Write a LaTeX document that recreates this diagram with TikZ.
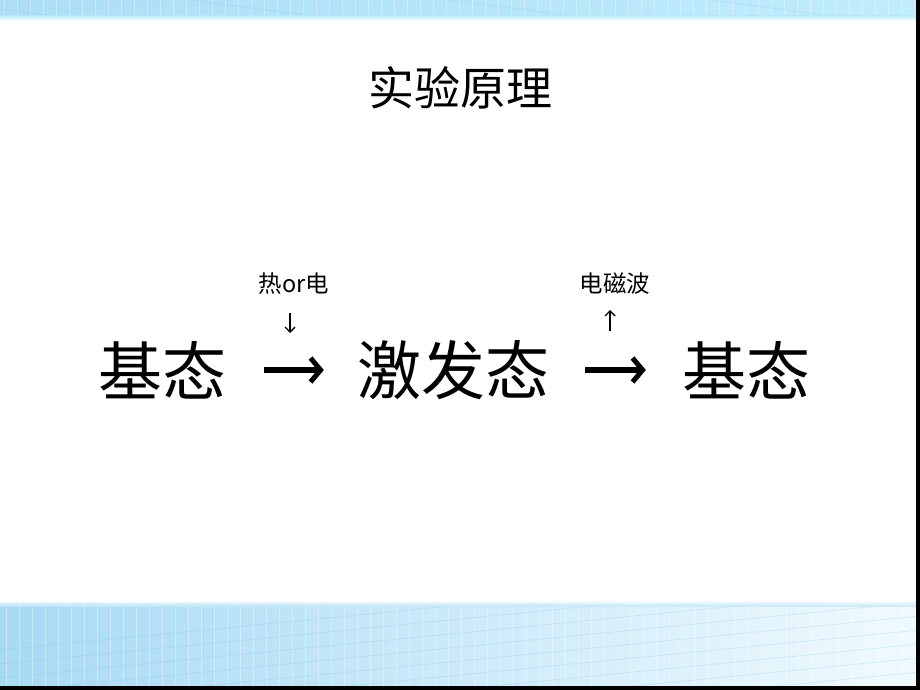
\documentclass[tikz,border=0pt]{standalone}
\usepackage{fontspec}
\setmainfont{Noto Sans CJK SC}
\usetikzlibrary{arrows.meta}
\definecolor{bandTopL}{RGB}{172,222,246}
\definecolor{bandTopR}{RGB}{192,236,252}
\definecolor{bandBotL}{RGB}{168,218,244}
\definecolor{bandBotR}{RGB}{240,250,254}
\definecolor{gridc}{RGB}{120,195,235}
\tikzset{
  bigtxt/.style={inner sep=0pt, font=\fontsize{64}{70}\selectfont},
  smalltxt/.style={inner sep=0pt, font=\fontsize{23.5}{27}\selectfont},
  titletxt/.style={inner sep=0pt, font=\fontsize{46}{52}\selectfont},
  bigarrow/.style={line width=6pt, -{Straight Barb[length=10pt,width=24pt,line width=5pt]}},
  smallarrow/.style={line width=1.4pt, -{Straight Barb[length=5pt,width=10pt,line width=1.4pt]}},
  gridv/.style={draw=white, line width=0.7pt, opacity=0.35},
  gridd/.style={draw=gridc, line width=0.6pt, opacity=0.3}
}
\begin{document}
\begin{tikzpicture}[x=1pt,y=-1pt]
\useasboundingbox (0,0) rectangle (920,690);
\fill[white] (0,0) rectangle (920,690);
% top band
\shade[left color=bandTopL, right color=bandTopR] (0,0) rectangle (920,19);
\begin{scope}
\clip (0,0) rectangle (920,19);
\foreach \x in {4,17,...,920} \draw[gridv] (\x,0) -- (\x,19);
\foreach \x in {-100,160,...,1100} \draw[gridd] (\x,-4) -- (\x+260,30);
\end{scope}
\shade[top color=bandTopR, bottom color=white] (0,16) rectangle (920,21);
% bottom band
\shade[left color=bandBotL, right color=bandBotR] (0,603) rectangle (920,687);
\begin{scope}
\clip (0,603) rectangle (920,687);
\foreach \x in {6,19,...,920} \draw[gridv] (\x,603) -- (\x,687);
\foreach \i in {0,...,12} \draw[gridd] (0,650+\i*14) -- (920,560+\i*14);
\end{scope}
\shade[top color=white, bottom color=bandBotL!60!bandBotR, opacity=0.8] (0,600) rectangle (920,606);
% black frame edges
\fill[black] (0,686) rectangle (920,690);
\fill[black] (916,0) rectangle (920,690);
% title
\node[titletxt] (title) at (460,88) {实验原理};
% main row
\node[bigtxt] (s1) at (162,370) {基态};
\node[bigtxt] (s2) at (453,370) {激发态};
\node[bigtxt] (s3) at (746,370) {基态};
\draw[bigarrow, shorten <=38pt, shorten >=33pt] (s1.east) -- (s2.west);
\draw[bigarrow, shorten <=36pt, shorten >=36pt] (s2.east) -- (s3.west);
% labels
\node[smalltxt] (l1) at (294,284) {热or电};
\node[smalltxt] (l2) at (615,284) {电磁波};
\coordinate (d1a) at (290,313);
\coordinate (d1b) at (290,333);
\coordinate (u2a) at (610,331);
\coordinate (u2b) at (610,310);
\draw[smallarrow] (d1a) -- (d1b);
\draw[smallarrow] (u2a) -- (u2b);
\end{tikzpicture}
\end{document}
